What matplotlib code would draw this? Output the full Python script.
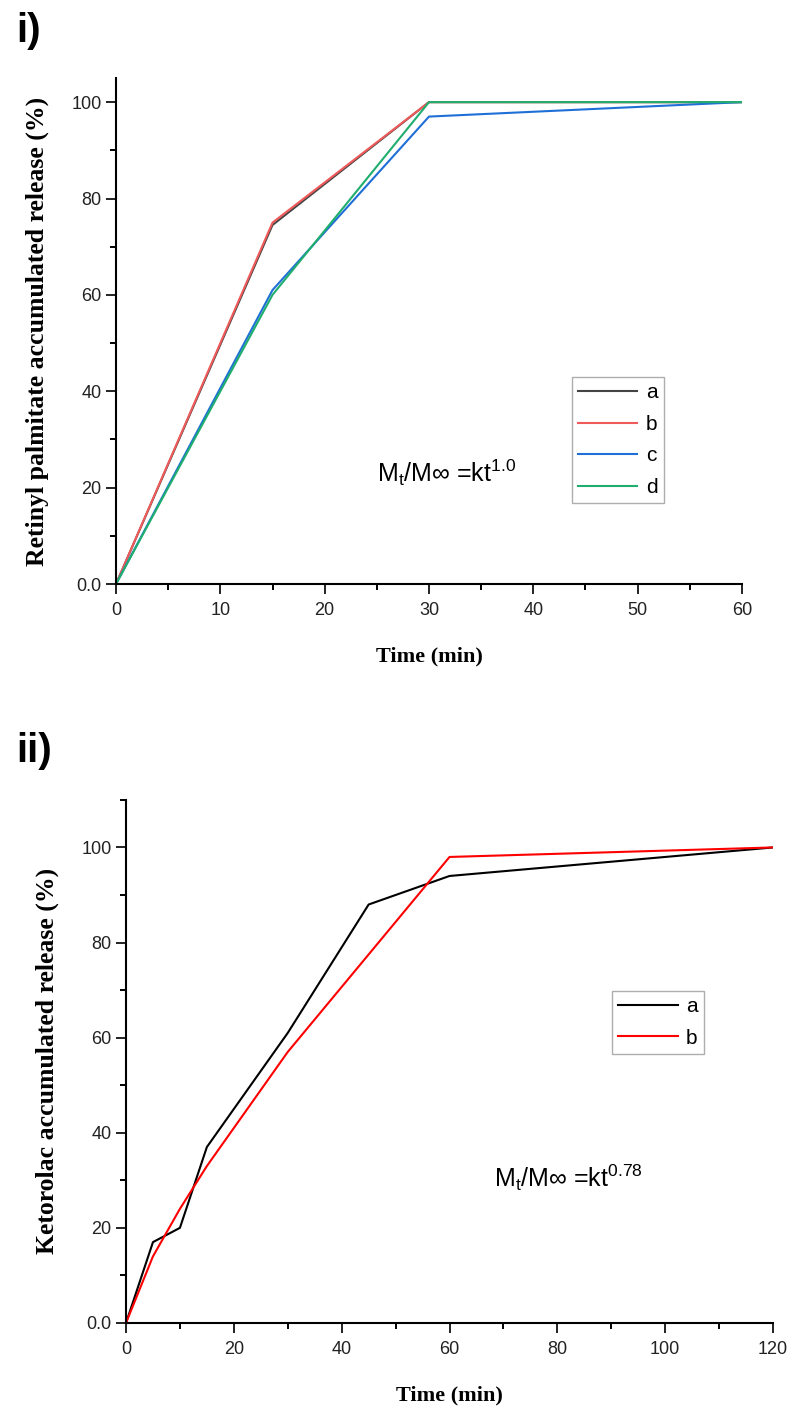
import matplotlib
matplotlib.use('Agg')
import matplotlib.pyplot as plt
from matplotlib.ticker import MultipleLocator, FuncFormatter

# Retinyl palmitate release (panel i)
t_rp = [0, 15, 30, 60]
rp_a = [0, 74.5, 100, 100]
rp_b = [0, 75, 100, 100]
rp_c = [0, 61, 97, 100]
rp_d = [0, 60, 100, 100]
rp_labels = ['a', 'b', 'c', 'd']

# Ketorolac release (panel ii)
t_ket_a = [0, 5, 10, 15, 30, 45, 60, 120]
ket_a = [0, 17, 20, 37, 61, 88, 94, 100]
t_ket_b = [0, 5, 10, 15, 30, 60, 120]
ket_b = [0, 14, 24, 33, 57, 98, 100]
ket_labels = ['a', 'b']

plt.rcParams['font.family'] = 'Liberation Sans'
plt.rcParams['mathtext.fontset'] = 'custom'
plt.rcParams['mathtext.rm'] = 'Liberation Sans'
plt.rcParams['mathtext.it'] = 'Liberation Sans:italic'

fig = plt.figure(figsize=(7.94, 14.11), dpi=100)


def estilo(ax, xmaj, xmin, xlim, ylim, ylabel):
    ax.spines['top'].set_visible(False)
    ax.spines['right'].set_visible(False)
    for s in ['left', 'bottom']:
        ax.spines[s].set_linewidth(1.5)
    ax.set_xlim(xlim)
    ax.set_ylim(ylim)
    ax.xaxis.set_major_locator(MultipleLocator(xmaj))
    ax.xaxis.set_minor_locator(MultipleLocator(xmin))
    ax.yaxis.set_major_locator(MultipleLocator(20))
    ax.yaxis.set_minor_locator(MultipleLocator(10))
    ax.yaxis.set_major_formatter(FuncFormatter(lambda v, p: '0.0' if v == 0 else '%d' % v))
    ax.tick_params(which='major', length=7, width=1.4, labelsize=13, colors='#222222')
    ax.tick_params(which='minor', length=4, width=1.4)
    ax.tick_params(axis='x', pad=6)
    ax.set_xlabel('Time (min)', family='Liberation Serif', fontweight='bold', fontsize=16, labelpad=20)
    ax.set_ylabel(ylabel, family='Liberation Serif', fontweight='bold', fontsize=18.5, labelpad=16)


def leyenda(ax, x, y):
    leg = ax.legend(loc='upper left', bbox_to_anchor=(x, y), borderaxespad=0,
                    fontsize=15, handlelength=2.85, handletextpad=0.4, labelspacing=0.6,
                    fancybox=False, edgecolor='#999999', borderpad=0.3)
    leg.get_frame().set_linewidth(1.0)


# panel i
ax1 = fig.add_axes([0.1461, 0.5861, 0.7884, 0.3586])
ax1.plot(t_rp, rp_a, color='#444444', lw=1.5, label=rp_labels[0])
ax1.plot(t_rp, rp_b, color='#f05a5a', lw=1.5, label=rp_labels[1])
ax1.plot(t_rp, rp_c, color='#1f6fd6', lw=1.5, label=rp_labels[2])
ax1.plot(t_rp, rp_d, color='#1fae6e', lw=1.5, label=rp_labels[3])
estilo(ax1, 10, 5, (0, 60), (0, 105), 'Retinyl palmitate accumulated release (%)')
leyenda(ax1, 0.728, 0.409)
ax1.text(0.417, 0.2016, r'M$_\mathregular{t}$/M∞ =kt$^\mathregular{1.0}$', transform=ax1.transAxes,
         fontsize=18, va='baseline', ha='left')
fig.text(0.02, 0.978, 'i)', fontsize=29, fontweight='bold', va='center', ha='left')

# panel ii
ax2 = fig.add_axes([0.1587, 0.0624, 0.8149, 0.3707])
ax2.plot(t_ket_a, ket_a, color='black', lw=1.5, label=ket_labels[0])
ax2.plot(t_ket_b, ket_b, color='#ff0000', lw=1.5, label=ket_labels[1])
estilo(ax2, 20, 10, (0, 120), (0, 110), 'Ketorolac accumulated release (%)')
leyenda(ax2, 0.751, 0.635)
ax2.text(0.569, 0.26, r'M$_\mathregular{t}$/M∞ =kt$^\mathregular{0.78}$', transform=ax2.transAxes,
         fontsize=18, va='baseline', ha='left')
fig.text(0.02, 0.468, 'ii)', fontsize=29, fontweight='bold', va='center', ha='left')

fig.savefig('out.png', dpi=100)
